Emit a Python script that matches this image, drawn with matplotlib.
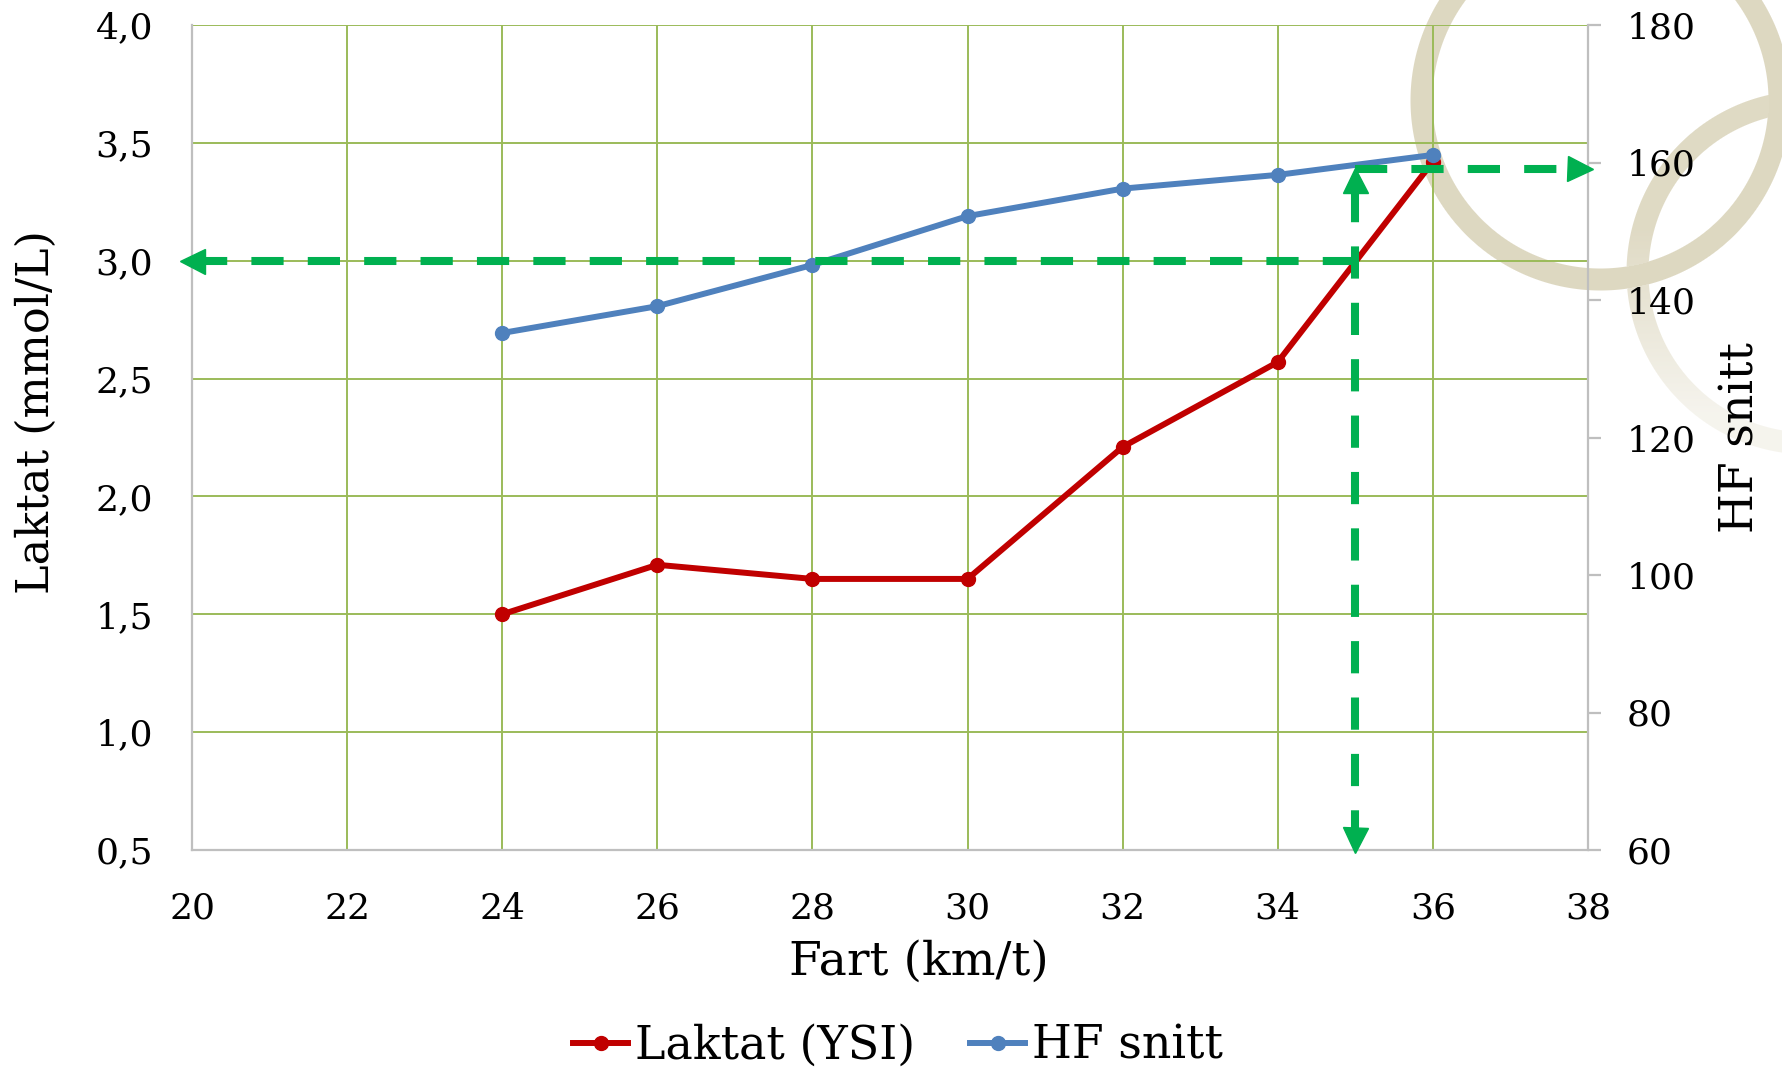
import numpy as np
import matplotlib
matplotlib.use("Agg")
import matplotlib.pyplot as plt
from matplotlib.ticker import FuncFormatter

# ---------------- data ----------------
speed = [24, 26, 28, 30, 32, 34, 36]
lactate = [1.50, 1.71, 1.65, 1.65, 2.21, 2.57, 3.42]
heart_rate = [135.2, 139.1, 145.1, 152.2, 156.2, 158.2, 161.1]

x_ticks = [20, 22, 24, 26, 28, 30, 32, 34, 36, 38]
lactate_ticks = [0.5, 1.0, 1.5, 2.0, 2.5, 3.0, 3.5, 4.0]
hr_ticks = [60, 80, 100, 120, 140, 160, 180]

threshold_lactate = 3.0
threshold_speed = 35.0
threshold_hr = 159.0

series_names = ["Laktat (YSI)", "HF snitt"]
x_title = "Fart (km/t)"
y_title = "Laktat (mmol/L)"
y2_title = "HF snitt"

# ---------------- style ----------------
RED = "#C00000"
BLUE = "#4F81BD"
GRID = "#9BBB59"
SPINE = "#BFBFBF"
ARROW = "#00B050"
FONT = "DejaVu Serif"

W, H = 1783, 1073
plt.rcParams["font.family"] = [FONT]
fig = plt.figure(figsize=(W / 100, H / 100), dpi=100, facecolor="white")

# watermark rings (decorative), in pixel coordinates from the top-left
yy, xx = np.mgrid[0:H, 0:W]
img = np.zeros((H, W, 4))
ring_rgb = np.array([220, 214, 190]) / 255.0
d1 = np.hypot(xx - 1600, yy - 100)
ring1 = np.clip(11.5 - np.abs(d1 - 179), 0, 1) * 0.95
d2 = np.hypot(xx - 1808, yy - 272)
fade2 = np.clip(1 - (yy - 230) / 260.0, 0.3, 1.0) * 0.9
ring2 = np.clip(11.5 - np.abs(d2 - 171), 0, 1) * fade2
alpha = np.maximum(ring1, ring2)
img[..., :3] = ring_rgb
img[..., 3] = alpha
fig.figimage(img, xo=0, yo=0, origin="upper", zorder=-10)

ax = fig.add_axes([192 / W, 1 - 850 / H, 1396 / W, 825 / H])
ax.patch.set_alpha(0)
ax2 = ax.twinx()
ax2.patch.set_alpha(0)

ax.set_xlim(x_ticks[0], x_ticks[-1])
ax.set_ylim(lactate_ticks[0], lactate_ticks[-1])
ax2.set_ylim(hr_ticks[0], hr_ticks[-1])
ax.set_xticks(x_ticks)
ax.set_yticks(lactate_ticks)
ax2.set_yticks(hr_ticks)
ax.yaxis.set_major_formatter(FuncFormatter(lambda v, p: f"{v:.1f}".replace(".", ",")))

ax.grid(True, color=GRID, linewidth=1.4, zorder=0)
ax.set_axisbelow(True)

for s in ["top", "right"]:
    ax.spines[s].set_visible(False)
for s in ["left", "bottom"]:
    ax.spines[s].set_color(SPINE)
    ax.spines[s].set_linewidth(1.6)
for s in ["top", "left", "bottom"]:
    ax2.spines[s].set_visible(False)
ax2.spines["right"].set_color(SPINE)
ax2.spines["right"].set_linewidth(1.6)

ax.tick_params(axis="x", length=0, labelsize=26, pad=30)
ax.tick_params(axis="y", length=0, labelsize=26, pad=28)
ax2.tick_params(axis="y", length=9, width=1.6, color=SPINE, labelsize=26, pad=19)

# data lines
l1, = ax.plot(speed, lactate, color=RED, linewidth=4.3, marker="o", markersize=10,
              label=series_names[0], zorder=3)
l2, = ax2.plot(speed, heart_rate, color=BLUE, linewidth=4.3, marker="o", markersize=10,
               label=series_names[1], zorder=3)

# threshold arrows
dash = dict(color=ARROW, linewidth=5.8, linestyle=(0, (4.0, 3.0)), zorder=6, clip_on=False,
            solid_capstyle="butt", dash_capstyle="butt")
head = dict(color=ARROW, markersize=18, linestyle="none", zorder=7, clip_on=False)

# horizontal arrow at lactate threshold -> left axis
ax2.plot([threshold_speed, x_ticks[0] + 0.15], [threshold_lactate, threshold_lactate],
         transform=ax.transData, **dash)
ax2.plot([x_ticks[0]], [threshold_lactate], marker="<", transform=ax.transData, **head)
# vertical arrow at threshold speed
ax2.plot([threshold_speed, threshold_speed], [threshold_hr - 3, hr_ticks[0] + 2], **dash)
ax2.plot([threshold_speed], [threshold_hr - 1.5], marker="^", **head)
ax2.plot([threshold_speed], [hr_ticks[0] + 1.5], marker="v", **head)
# horizontal arrow at threshold HR -> right axis
ax2.plot([threshold_speed, x_ticks[-1] - 0.15], [threshold_hr, threshold_hr], **dash)
ax2.plot([x_ticks[-1] - 0.1], [threshold_hr], marker=">", **head)

# titles
ax.set_xlabel(x_title, fontsize=34, va="center")
ax.xaxis.set_label_coords(0.5208, -0.1358)
ax.set_ylabel(y_title, fontsize=32, va="center")
ax.yaxis.set_label_coords(-0.1117, 0.531)
ax2.set_ylabel(y2_title, fontsize=33, va="center", rotation=90)
ax2.yaxis.set_label_coords(1.1096, 0.5)

fig.legend(handles=[l1, l2], labels=series_names, loc="center",
           bbox_to_anchor=(898 / W, 1 - 1046 / H), ncol=2, frameon=False,
           fontsize=33, handlelength=1.2, handletextpad=0.15, columnspacing=1.2,
           borderaxespad=0)

fig.savefig("out.png", dpi=100, facecolor="white")
